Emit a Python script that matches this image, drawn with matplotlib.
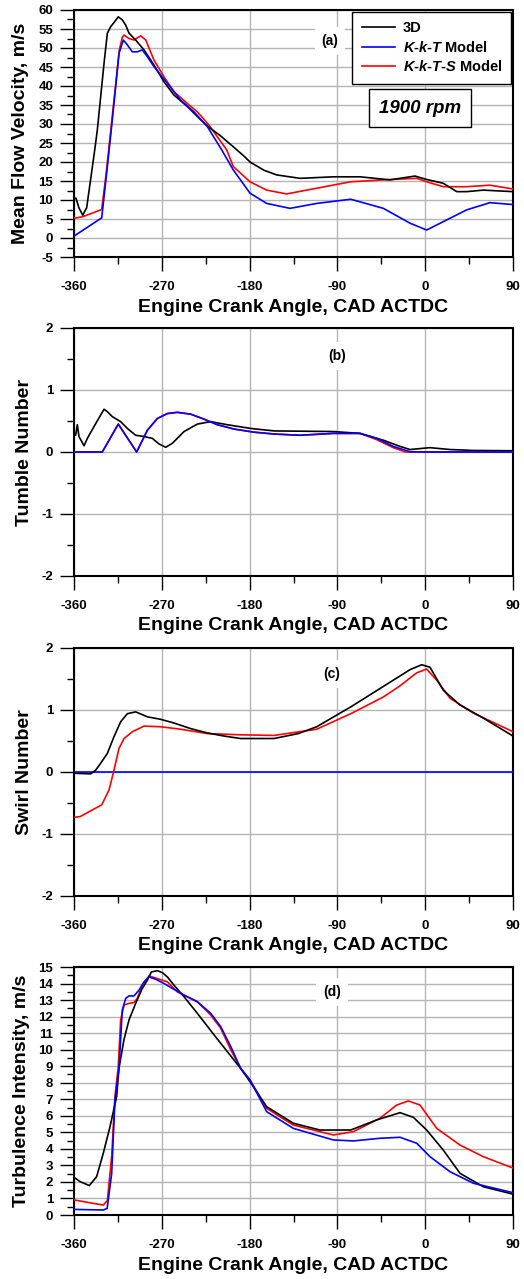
import numpy as np
import matplotlib
matplotlib.use("Agg")
import matplotlib.pyplot as plt
from matplotlib.ticker import MultipleLocator

plt.rcParams['font.family'] = ['Liberation Sans', 'DejaVu Sans']
plt.rcParams['font.weight'] = 'bold'
plt.rcParams['axes.unicode_minus'] = False
plt.rcParams['mathtext.fontset'] = 'custom'
plt.rcParams['mathtext.it'] = 'Liberation Sans:italic:bold'
plt.rcParams['mathtext.rm'] = 'Liberation Sans:bold'

# ---------------- data (a) Mean flow velocity ----------------
a_3d_x = [-360, -358, -354.9, -351, -347, -339.2, -336.1, -329.2, -325.8, -322.4, -319, -314.6, -310.5,
          -307, -303.6, -296.8, -288.2, -278, -267.7, -257.5, -243.8, -230.2, -220.6, -210.3, -196.7,
          -184.7, -179.6, -165, -152.2, -128.3, -94.2, -66.8, -36.1, -10.5, 1.5, 18.5, 32.3, 42.5,
          59.5, 90]
a_3d_y = [10.3, 10.5, 7.9, 6.0, 8.0, 22.3, 28.4, 46.0, 53.9, 55.6, 56.7, 58.2, 57.4,
          56.0, 53.9, 52.1, 49.5, 45.5, 41.1, 37.6, 34.6, 31.1, 28.9, 27.0, 24.0,
          21.3, 20.0, 17.8, 16.6, 15.7, 16.1, 16.1, 15.3, 16.3, 15.4, 14.4, 12.2, 12.2,
          12.6, 12.2]
a_kkt_x = [-360, -331.6, -327, -322, -317.3, -313.9, -309.4, -305.3, -300.2, -295.1, -290,
           -284.8, -278, -264.3, -250.7, -237, -223.3, -208.6, -196.7, -179.6, -162.5, -138.6,
           -111.2, -76.3, -42.9, -15.6, 1.5, 18.5, 42.5, 66.4, 90]
a_kkt_y = [0.5, 5.3, 16.0, 28.0, 39.8, 48.6, 52.1, 50.8, 49.0, 49.0, 49.5,
           47.7, 45.1, 40.7, 36.3, 33.2, 29.3, 23.2, 17.9, 11.8, 9.1, 7.8,
           9.1, 10.2, 7.8, 3.9, 2.1, 4.3, 7.4, 9.3, 8.8]
a_kkts_x = [-360, -351, -331.6, -327, -322, -317, -313.5, -310.5, -308.7, -303.6, -298.5, -291.7,
            -286.5, -278, -267.7, -257.5, -243.8, -233.6, -221.6, -203.5, -196.7, -179.6, -162.5,
            -142, -111.2, -76.3, -42.9, -8.7, 1.5, 18.5, 42.5, 66.4, 90]
a_kkts_y = [5.2, 5.6, 7.5, 17.0, 29.0, 41.0, 49.5, 52.8, 53.4, 52.5, 52.1, 53.2,
            52.1, 46.8, 42.4, 38.5, 35.4, 33.2, 29.7, 23.2, 18.8, 14.8, 12.6,
            11.6, 13.1, 14.8, 15.3, 15.7, 14.8, 13.5, 13.5, 13.9, 12.9]

# ---------------- data (b) Tumble number ----------------
b_3d_x = [-360, -358.3, -356.6, -354.9, -349.7, -346.3, -339.5, -329.2, -325.8, -320.7, -312.2,
          -305.3, -296.8, -288.2, -279.7, -272.9, -266, -259.2, -247.2, -233.6, -219.9, -202.8,
          -178.9, -155, -94.2, -66.8, -42.9, -25.8, -15.6, 4.9, 25.4, 49.4, 90]
b_3d_y = [0.30, 0.27, 0.44, 0.25, 0.10, 0.22, 0.41, 0.69, 0.65, 0.57, 0.49,
          0.38, 0.27, 0.25, 0.22, 0.13, 0.076, 0.14, 0.33, 0.45, 0.49, 0.44,
          0.38, 0.34, 0.33, 0.30, 0.19, 0.09, 0.04, 0.07, 0.04, 0.025, 0.02]
b_kkt_x = [-360, -331, -314.6, -295.8, -284.8, -274.6, -264.3, -254.1, -240.4, -226.7, -213.1,
           -196, -175.5, -155, -128.3, -94.2, -66.8, -49.8, -32.7, -15.6, 0, 90]
b_kkt_y = [0, 0, 0.45, 0, 0.35, 0.54, 0.62, 0.64, 0.61, 0.53, 0.44,
           0.37, 0.32, 0.29, 0.27, 0.30, 0.30, 0.22, 0.09, 0.005, 0, 0]
b_kkts_x = [-360, -331, -314.6, -295.8, -284.8, -274.6, -264.3, -254.1, -240.4, -226.7, -213.1,
            -196, -175.5, -155, -128.3, -94.2, -66.8, -49.8, -32.7, -20, 0, 90]
b_kkts_y = [0, 0, 0.45, 0, 0.35, 0.54, 0.62, 0.64, 0.61, 0.53, 0.44,
            0.37, 0.32, 0.29, 0.27, 0.30, 0.30, 0.20, 0.07, 0.0, 0, 0]

# ---------------- data (c) Swirl number ----------------
c_3d_x = [-360, -342.9, -337.8, -332.7, -325.8, -319, -312.2, -305.3, -296.8, -284.8, -271.2,
          -257.5, -240.4, -223.3, -206.2, -189.2, -172.1, -155, -130, -111.2, -76.3, -42.9,
          -15.6, -3.6, 4.9, 18.5, 35.7, 59.5, 90]
c_3d_y = [-0.02, -0.03, 0.03, 0.14, 0.30, 0.57, 0.81, 0.94, 0.97, 0.89, 0.85,
          0.79, 0.70, 0.63, 0.58, 0.54, 0.54, 0.54, 0.62, 0.73, 1.05, 1.38,
          1.65, 1.73, 1.69, 1.32, 1.08, 0.87, 0.58]
c_kkt_x = [-360, 90]
c_kkt_y = [0, 0]
c_kkts_x = [-360, -353.8, -331.6, -324.1, -319, -313.9, -308.7, -300.2, -288.2, -271.2, -250.7,
            -223.3, -189.2, -155, -111.2, -76.3, -42.9, -25.8, -8.7, 1.5, 11.8, 25.4, 49.4, 90]
c_kkts_y = [-0.73, -0.72, -0.53, -0.29, 0.03, 0.38, 0.54, 0.65, 0.74, 0.73, 0.69,
            0.62, 0.60, 0.59, 0.69, 0.94, 1.21, 1.39, 1.60, 1.66, 1.48, 1.19, 0.95, 0.65]

# ---------------- data (d) Turbulence intensity ----------------
d_3d_x = [-360, -353.8, -344.3, -336.8, -330, -323.1, -316.3, -313.9, -308.8, -303.6, -296.8,
          -290, -284.8, -280.7, -274.6, -269.5, -264.3, -257.5, -247.2, -233.6, -216.5, -202.8,
          -189.2, -179.6, -162.5, -135.2, -107.9, -76.3, -49.8, -25.8, -12.2, 1.5, 18.5, 35.7,
          59.5, 90]
d_3d_y = [2.28, 2.02, 1.78, 2.32, 3.73, 5.34, 7.16, 8.87, 10.6, 11.8, 12.8,
          13.7, 14.2, 14.7, 14.78, 14.66, 14.4, 13.9, 13.2, 12.2, 10.9, 9.88,
          8.87, 8.06, 6.55, 5.55, 5.14, 5.14, 5.75, 6.19, 5.91, 5.14, 3.93, 2.52,
          1.71, 1.26]
d_kkt_x = [-360, -330, -326, -321.4, -318, -313.9, -310.5, -307, -303.6, -298.5, -293.4, -288.2,
           -283.1, -276.3, -267.7, -257.5, -247.2, -233.6, -219.9, -209.7, -199.4, -189.2,
           -179.6, -162.5, -135.2, -94.2, -73.7, -46.4, -25.8, -8.7, 4.9, 25.4, 49.4, 90]
d_kkt_y = [0.34, 0.30, 0.40, 2.5, 7.0, 8.87, 12.4, 13.1, 13.25, 13.25, 13.6, 14.1,
           14.4, 14.26, 14.0, 13.65, 13.3, 12.9, 12.2, 11.4, 10.2, 8.87,
           8.17, 6.25, 5.24, 4.54, 4.48, 4.64, 4.70, 4.34, 3.53, 2.62, 1.92, 1.35]
d_kkts_x = [-360, -330, -325.8, -321.4, -318, -314.6, -312.2, -308.7, -303.6, -298.5, -295.1,
            -290, -283.1, -274.6, -264.3, -254.1, -233.6, -219.9, -209.7, -199.4, -189.2,
            -179.6, -162.5, -135.2, -94.2, -73.7, -46.4, -29.2, -17.3, -5.3, 11.8, 35.7, 59.5, 90]
d_kkts_y = [0.91, 0.60, 0.88, 3.53, 7.16, 8.97, 11.8, 12.7, 12.8, 12.85, 13.1,
            13.9, 14.46, 14.3, 14.1, 13.5, 12.9, 12.1, 11.3, 10.0, 8.87,
            8.17, 6.45, 5.44, 4.84, 5.04, 5.85, 6.65, 6.9, 6.65, 5.24, 4.23, 3.53, 2.84]

x_ticks = [-360, -270, -180, -90, 0, 90]
series_labels = ['3D', r'$K$-$k$-$T$ Model', r'$K$-$k$-$T$-$S$ Model']
colors = ['black', '#0000ff', '#ff0000']

panels = [
    dict(ylabel='Mean Flow Velocity, m/s', ylim=(-5, 60), major=5, minor=2.5, tag='(a)',
         tagpos=(-97.5, 51.8), lx=20.5,
         data=[(a_3d_x, a_3d_y), (a_kkt_x, a_kkt_y), (a_kkts_x, a_kkts_y)]),
    dict(ylabel='Tumble Number', ylim=(-2, 2), major=1, minor=0.5, tag='(b)',
         tagpos=(-90.7, 1.55), lx=25,
         data=[(b_3d_x, b_3d_y), (b_kkt_x, b_kkt_y), (b_kkts_x, b_kkts_y)]),
    dict(ylabel='Swirl Number', ylim=(-2, 2), major=1, minor=0.5, tag='(c)',
         tagpos=(-95.9, 1.58), lx=25,
         data=[(c_3d_x, c_3d_y), (c_kkt_x, c_kkt_y), (c_kkts_x, c_kkts_y)]),
    dict(ylabel='Turbulence Intensity, m/s', ylim=(0, 15), major=1, minor=0.5, tag='(d)',
         tagpos=(-95.5, 13.5), lx=21.5,
         data=[(d_3d_x, d_3d_y), (d_kkt_x, d_kkt_y), (d_kkts_x, d_kkts_y)]),
]

W, H = 524, 1279
fig = plt.figure(figsize=(W / 100, H / 100), dpi=100)
tops = [10, 328, 648, 967]
bots = [257, 576, 896, 1215]
left_px, right_px = 74, 513

for i, p in enumerate(panels):
    ax = fig.add_axes([left_px / W, 1 - bots[i] / H, (right_px - left_px) / W, (bots[i] - tops[i]) / H])
    zorders = {0: 4, 1: 5, 2: 3} if i != 2 else {0: 5, 1: 3, 2: 4}
    for k in range(3):
        xs, ys = p['data'][k]
        ax.plot(xs, ys, color=colors[k], lw=1.2, label=series_labels[k], zorder=zorders[k])
    ax.set_xlim(-360, 90)
    ax.set_ylim(*p['ylim'])
    ax.set_xticks(x_ticks)
    ax.xaxis.set_minor_locator(MultipleLocator(45))
    ax.yaxis.set_major_locator(MultipleLocator(p['major']))
    ax.yaxis.set_minor_locator(MultipleLocator(p['minor']))
    ax.grid(True, which='major', color='#b4b4b4', lw=1.0, zorder=0)
    ax.set_axisbelow(True)
    ax.tick_params(which='major', direction='out', length=10, width=1.0, labelsize=9.5, pad=7)
    ax.tick_params(which='minor', direction='out', length=5, width=1.0)
    ax.tick_params(axis='y', which='major', pad=5)
    for lab in ax.get_xticklabels() + ax.get_yticklabels():
        lab.set_fontweight('bold')
    for s in ax.spines.values():
        s.set_linewidth(1.5)
    ax.set_xlabel('Engine Crank Angle, CAD ACTDC', fontsize=14, fontweight='bold', va='center')
    ax.xaxis.set_label_coords(0.5, -50 / (bots[i] - tops[i]))
    ax.set_ylabel(p['ylabel'], fontsize=14, fontweight='bold', va='center')
    ax.yaxis.set_label_coords((p['lx'] - left_px) / (right_px - left_px), 0.5)
    ax.text(p['tagpos'][0], p['tagpos'][1], p['tag'], fontsize=10, fontweight='bold',
            ha='center', va='center', zorder=2,
            bbox=dict(facecolor='white', edgecolor='none', boxstyle='square,pad=0.5'))
    if i == 0:
        handles, labels = ax.get_legend_handles_labels()
        hmap = dict(zip(labels, handles))
        leg = ax.legend([hmap[l] for l in series_labels], series_labels, loc='upper right',
                        bbox_to_anchor=(0.996, 0.992), borderaxespad=0, fancybox=False,
                        framealpha=1, edgecolor='black', fontsize=10.5, handlelength=2.3,
                        handletextpad=0.5, borderpad=0.65, labelspacing=0.3)
        leg.get_frame().set_linewidth(1.0)
        leg.set_zorder(10)
        for t in leg.get_texts():
            t.set_fontweight('bold')
        ax.text(-5.3, 34.2, '1900 rpm', fontsize=13.5, fontweight='bold', fontstyle='italic',
                ha='center', va='center', zorder=10,
                bbox=dict(facecolor='white', edgecolor='black', lw=1.0, boxstyle='square,pad=0.55'))

fig.savefig('out.png', dpi=100)
